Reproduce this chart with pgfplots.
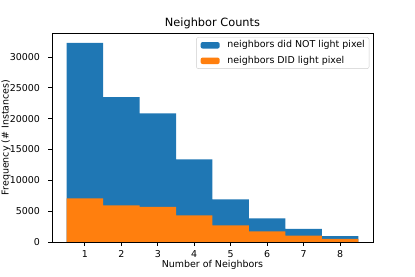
\documentclass[border=0pt]{standalone}
\usepackage{pgfplots}
\pgfplotsset{compat=1.18}
\usepackage{fontspec}
\setmainfont{DejaVu Sans}
\definecolor{tabblue}{HTML}{1F77B4}
\definecolor{taborange}{HTML}{FF7F0E}
\begin{document}
\begin{tikzpicture}[x=1bp,y=1bp]
\begin{axis}[
  at={(0,0)}, anchor=south west,
  width=321bp, height=209bp, scale only axis,
  xmin=0.1, xmax=8.9, ymin=0, ymax=33890,
  xtick={1,2,3,4,5,6,7,8},
  ytick={0,5000,10000,15000,20000,25000,30000},
  scaled y ticks=false,
  /pgf/number format/.cd, set thousands separator={}, assume math mode=true, /pgfplots/.cd,
  tick align=outside, major tick length=3.5bp,
  xtick pos=bottom, ytick pos=left,
  tick style={black, line width=0.75bp},
  axis line style={line width=0.75bp},
  tick label style={font=\fontsize{9.5}{11}\selectfont},
  yticklabel style={xshift=-5bp},
  xticklabel style={yshift=-1.5bp},
  label style={font=\fontsize{9.5}{11}\selectfont},
  title style={font=\fontsize{11.4}{13}\selectfont, at={(axis description cs:0.5,1.004)}, anchor=base},
  title={Neighbor Counts},
  xlabel={Number of Neighbors},
  xlabel style={at={(axis description cs:0.5,-0.123)}, anchor=base},
  ylabel={Frequency (\# Instances)},
  ylabel style={at={(axis description cs:-0.1355,0.5)}, anchor=base, rotate=0},
  legend cell align=left,
  legend style={at={(rel axis cs:0.9885,0.9794)}, anchor=north east,
    draw=black!20, rounded corners=2bp, font=\fontsize{9.5}{11}\selectfont,
    inner xsep=4.3bp, inner ysep=3.3bp, row sep=6.5bp, column sep=7.7bp,
    nodes={inner sep=0pt, text height=7bp, text depth=2bp}},
  legend image code/.code={\fill[#1] (0bp,-3.25bp) rectangle (19bp,3.25bp);},
]
\addplot[ybar, bar width=1, bar shift=0pt, fill=tabblue, draw=none]
  coordinates {(1,32270) (2,23510) (3,20870) (4,13400) (5,6920) (6,3840) (7,2110) (8,970)};
\addlegendentry{neighbors did NOT light pixel}
\addplot[ybar, bar width=1, bar shift=0pt, fill=taborange, draw=none]
  coordinates {(1,7080) (2,5950) (3,5680) (4,4320) (5,2700) (6,1730) (7,1030) (8,490)};
\addlegendentry{neighbors DID light pixel}
\end{axis}
\pgfresetboundingbox
\useasboundingbox (-52bp,-35bp) rectangle (363bp,242bp);
\end{tikzpicture}
\end{document}
